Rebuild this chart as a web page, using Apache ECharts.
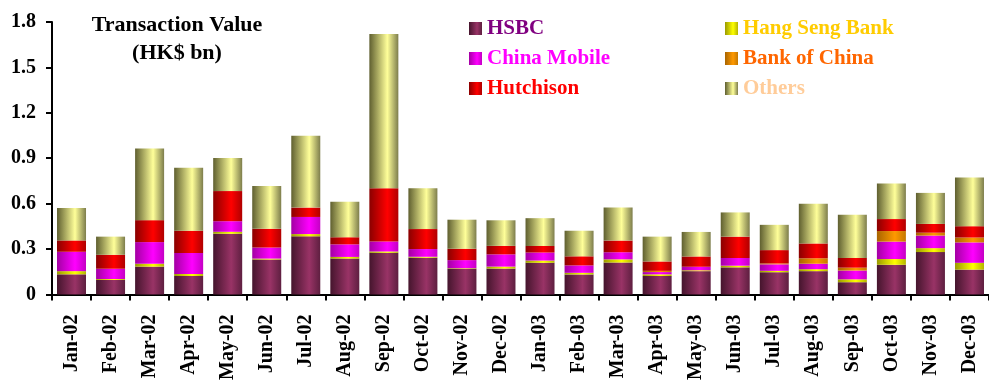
<!DOCTYPE html>
<html>
<head>
<meta charset="utf-8">
<script src="https://cdn.jsdelivr.net/npm/echarts@6/dist/echarts.min.js"></script>
<style>
html,body{margin:0;padding:0;background:#fff;}
#chart{width:989px;height:383px;}
</style>
</head>
<body>
<div id="chart"></div>
<script>
var categories = ['Jan-02','Feb-02','Mar-02','Apr-02','May-02','Jun-02','Jul-02','Aug-02','Sep-02','Oct-02','Nov-02','Dec-02',
                  'Jan-03','Feb-03','Mar-03','Apr-03','May-03','Jun-03','Jul-03','Aug-03','Sep-03','Oct-03','Nov-03','Dec-03'];
var hsbc        = [0.133,0.096,0.184,0.122,0.401,0.231,0.384,0.237,0.275,0.243,0.171,0.171,0.209,0.132,0.211,0.122,0.154,0.179,0.147,0.154,0.081,0.196,0.280,0.164];
var hangSeng    = [0.021,0.006,0.019,0.013,0.013,0.006,0.015,0.011,0.009,0.006,0.003,0.013,0.015,0.011,0.021,0.011,0.006,0.011,0.009,0.013,0.019,0.038,0.026,0.045];
var chinaMobile = [0.128,0.068,0.143,0.139,0.070,0.073,0.113,0.083,0.066,0.051,0.053,0.081,0.053,0.049,0.047,0.015,0.023,0.051,0.043,0.036,0.058,0.115,0.083,0.135];
var bankOfChina = [0,0,0,0,0,0,0,0,0,0,0,0,0,0,0,0.008,0,0,0.006,0.036,0.019,0.070,0.019,0.032];
var hutchison   = [0.075,0.092,0.145,0.147,0.199,0.124,0.062,0.047,0.352,0.132,0.075,0.056,0.043,0.060,0.077,0.062,0.068,0.141,0.088,0.098,0.064,0.079,0.058,0.075];
var others      = [0.214,0.120,0.474,0.416,0.218,0.282,0.474,0.235,1.019,0.269,0.192,0.169,0.184,0.169,0.218,0.164,0.162,0.160,0.167,0.263,0.286,0.235,0.205,0.322];
var yTicks = [0, 0.3, 0.6, 0.9, 1.2, 1.5, 1.8];

var FONT = '"Liberation Serif", "Times New Roman", serif';

function grad(dark, mid, right) {
  return new echarts.graphic.LinearGradient(0, 0, 1, 0, [
    {offset: 0, color: dark},
    {offset: 0.62, color: mid},
    {offset: 1, color: right}
  ]);
}

var seriesDefs = [
  {name: 'HSBC', data: hsbc, color: grad('#45152d', '#993366', '#5e1f40')},
  {name: 'Hang Seng Bank', data: hangSeng, color: grad('#9a9a00', '#ffff00', '#b5b500')},
  {name: 'China Mobile', data: chinaMobile, color: grad('#a300a3', '#ff00ff', '#c400c4')},
  {name: 'Bank of China', data: bankOfChina, color: grad('#a86400', '#ff9900', '#c47800')},
  {name: 'Hutchison', data: hutchison, color: grad('#8a0000', '#ff0000', '#b00000')},
  {name: 'Others', data: others, color: grad('#5f5f30', '#ffff99', '#7d7d4c')}
];

var series = seriesDefs.map(function (s) {
  return {
    name: s.name,
    type: 'bar',
    stack: 'total',
    barWidth: 29,
    data: s.data,
    itemStyle: {color: s.color},
    emphasis: {disabled: true}
  };
});

function legendItem(name, color) {
  return {name: name, textStyle: {color: color}};
}

var legendText = {fontFamily: FONT, fontWeight: 'bold', fontSize: 21};

var option = {
  animation: false,
  backgroundColor: '#ffffff',
  title: {
    text: 'Transaction Value\n(HK$ bn)',
    left: 172,
    top: 6,
    textAlign: 'center',
    textStyle: {fontFamily: FONT, fontWeight: 'bold', fontSize: 22, lineHeight: 28, color: '#000'}
  },
  legend: [
    {
      orient: 'vertical', left: 464, top: 13, itemWidth: 13, itemHeight: 13, itemGap: 9,
      selectedMode: false, icon: 'rect', textStyle: legendText,
      data: [legendItem('HSBC', '#800080'), legendItem('China Mobile', '#ff00ff'), legendItem('Hutchison', '#ff0000')]
    },
    {
      orient: 'vertical', left: 720, top: 13, itemWidth: 13, itemHeight: 13, itemGap: 9,
      selectedMode: false, icon: 'rect', textStyle: legendText,
      data: [legendItem('Hang Seng Bank', '#ffcc00'), legendItem('Bank of China', '#ff6600'), legendItem('Others', '#ffcc99')]
    }
  ],
  grid: {left: 52, right: 0, top: 22, bottom: 81, containLabel: false},
  xAxis: {
    type: 'category',
    data: categories,
    axisLine: {lineStyle: {color: '#000', width: 2}},
    axisTick: {show: true, length: 6, lineStyle: {color: '#000', width: 2}, alignWithLabel: false},
    axisLabel: {rotate: 90, margin: 20, interval: 0, fontFamily: FONT, fontWeight: 'bold', fontSize: 20, color: '#000'}
  },
  yAxis: {
    type: 'value',
    min: yTicks[0],
    max: yTicks[yTicks.length - 1],
    interval: 0.3,
    axisLine: {show: true, lineStyle: {color: '#000', width: 2}},
    axisTick: {show: true, length: 6, lineStyle: {color: '#000', width: 2}},
    splitLine: {show: false},
    axisLabel: {
      margin: 16, fontFamily: FONT, fontWeight: 'bold', fontSize: 20, color: '#000',
      formatter: function (v) { return v === 0 ? '0' : v.toFixed(1); }
    }
  },
  series: series
};

var chart = echarts.init(document.getElementById('chart'), null, {renderer: 'canvas'});
chart.setOption(option);
</script>
</body>
</html>
